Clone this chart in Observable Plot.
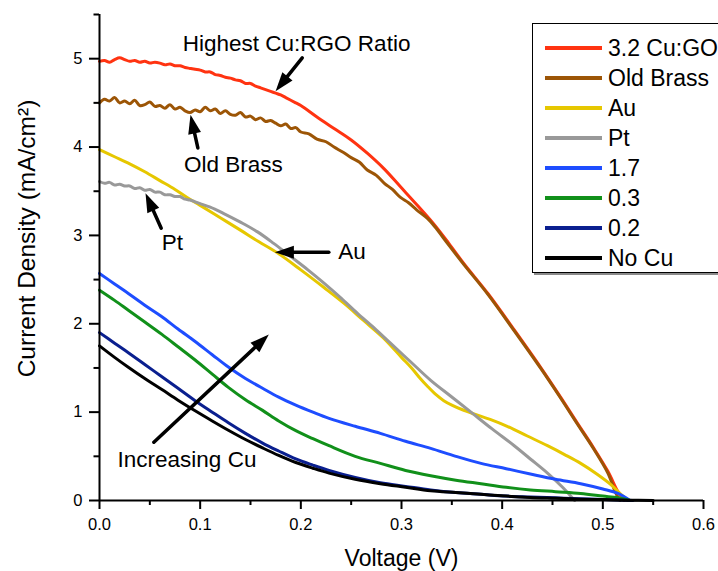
<!DOCTYPE html>
<html><head><meta charset="utf-8">
<script src="https://cdn.jsdelivr.net/npm/d3@7"></script>
<script src="https://cdn.jsdelivr.net/npm/@observablehq/plot@0.6"></script>
<style>
html,body{margin:0;padding:0;background:#fff;overflow:hidden;}
#wrap{position:relative;width:718px;height:571px;overflow:hidden;font-family:"Liberation Sans",Arial,sans-serif;}
#legend{position:absolute;left:532px;top:23px;width:240px;height:250px;border:1px solid #000;box-shadow:2px 2px 0 #8a8a8a;background:#fff;padding-top:9px;box-sizing:border-box;}
.row{height:30px;display:flex;align-items:center;font-size:23px;color:#000;white-space:nowrap;}
.sw{width:57px;height:3.5px;margin-left:12px;margin-right:6px;flex:none;}
</style></head><body><div id="wrap"></div>
<script>
// ---- data ----
const seriesNames = ["3.2 Cu:GO", "Old Brass", "Au", "Pt", "1.7", "0.3", "0.2", "No Cu"];
const seriesColors = ["#ff3311", "#9c5506", "#e6c700", "#999999", "#1e4dff", "#11901a", "#0a1f8f", "#000000"];

const cu32 = [[0,4.97],[0.005,4.98],[0.01,4.96],[0.015,4.99],[0.02,5.01],[0.025,4.99],[0.03,4.97],[0.035,4.98],[0.04,4.96],[0.045,4.97],[0.05,4.95],[0.055,4.96],[0.06,4.95],[0.065,4.93],[0.07,4.94],[0.075,4.92],[0.08,4.92],[0.085,4.90],[0.09,4.89],[0.095,4.88],[0.1,4.87],[0.105,4.85],[0.11,4.85],[0.115,4.82],[0.12,4.81],[0.125,4.79],[0.13,4.78],[0.135,4.76],[0.14,4.75],[0.145,4.72],[0.15,4.72],[0.155,4.69],[0.16,4.67],[0.165,4.65],[0.17,4.63],[0.175,4.61],[0.18,4.59],[0.185,4.56],[0.19,4.53],[0.195,4.50],[0.2,4.47],[0.216,4.34],[0.233,4.21],[0.25,4.08],[0.266,3.93],[0.283,3.75],[0.299,3.55],[0.315,3.35],[0.332,3.13],[0.347,2.91],[0.362,2.68],[0.386,2.34],[0.412,1.93],[0.438,1.51],[0.458,1.17],[0.475,0.87],[0.49,0.61],[0.505,0.33],[0.515,0.1],[0.521,0]];
const oldBrass = [[0,4.50],[0.005,4.54],[0.01,4.52],[0.015,4.56],[0.02,4.50],[0.025,4.52],[0.03,4.49],[0.035,4.53],[0.04,4.47],[0.045,4.48],[0.05,4.51],[0.055,4.46],[0.06,4.47],[0.065,4.44],[0.07,4.48],[0.075,4.43],[0.08,4.45],[0.085,4.41],[0.09,4.39],[0.095,4.42],[0.1,4.40],[0.105,4.45],[0.11,4.41],[0.115,4.43],[0.12,4.38],[0.125,4.41],[0.13,4.37],[0.135,4.36],[0.14,4.39],[0.145,4.34],[0.15,4.35],[0.155,4.31],[0.16,4.33],[0.165,4.29],[0.17,4.30],[0.175,4.27],[0.18,4.24],[0.185,4.26],[0.19,4.21],[0.195,4.22],[0.2,4.17],[0.208,4.15],[0.216,4.09],[0.225,4.06],[0.233,4.0],[0.242,3.94],[0.25,3.88],[0.258,3.83],[0.266,3.74],[0.275,3.68],[0.283,3.59],[0.291,3.52],[0.299,3.43],[0.307,3.37],[0.315,3.29],[0.326,3.19],[0.333,3.10],[0.347,2.89],[0.362,2.67],[0.386,2.33],[0.412,1.92],[0.438,1.50],[0.458,1.16],[0.475,0.86],[0.49,0.6],[0.505,0.31],[0.513,0.08],[0.517,0]];
const au = [[0,3.97],[0.015,3.89],[0.03,3.81],[0.045,3.72],[0.06,3.62],[0.075,3.52],[0.087,3.43],[0.1,3.34],[0.12,3.20],[0.14,3.06],[0.158,2.93],[0.177,2.80],[0.2,2.61],[0.223,2.41],[0.243,2.23],[0.262,2.04],[0.282,1.84],[0.3,1.62],[0.31,1.50],[0.318,1.39],[0.326,1.29],[0.334,1.20],[0.342,1.13],[0.35,1.08],[0.36,1.03],[0.372,0.98],[0.39,0.91],[0.405,0.84],[0.425,0.73],[0.445,0.62],[0.462,0.52],[0.478,0.42],[0.494,0.30],[0.508,0.18],[0.518,0.07],[0.525,0]];
const pt = [[0,3.61],[0.005,3.59],[0.01,3.60],[0.015,3.57],[0.02,3.58],[0.025,3.56],[0.03,3.56],[0.035,3.53],[0.04,3.54],[0.045,3.51],[0.05,3.52],[0.055,3.49],[0.06,3.49],[0.065,3.46],[0.07,3.46],[0.075,3.44],[0.08,3.44],[0.085,3.41],[0.09,3.40],[0.095,3.38],[0.1,3.36],[0.11,3.32],[0.123,3.25],[0.14,3.15],[0.157,3.04],[0.173,2.91],[0.19,2.76],[0.207,2.61],[0.223,2.46],[0.24,2.29],[0.256,2.12],[0.273,1.95],[0.289,1.78],[0.309,1.57],[0.329,1.36],[0.349,1.18],[0.369,1.0],[0.39,0.81],[0.412,0.62],[0.428,0.47],[0.445,0.31],[0.46,0.15],[0.472,0]];
const cu17 = [[0,2.57],[0.015,2.45],[0.029,2.34],[0.045,2.21],[0.062,2.08],[0.078,1.94],[0.095,1.80],[0.112,1.65],[0.128,1.51],[0.145,1.38],[0.162,1.27],[0.178,1.17],[0.195,1.08],[0.212,1.0],[0.228,0.93],[0.254,0.84],[0.279,0.76],[0.304,0.67],[0.329,0.59],[0.354,0.50],[0.379,0.42],[0.404,0.36],[0.428,0.30],[0.453,0.24],[0.478,0.19],[0.5,0.13],[0.515,0.08],[0.527,0]];
const cu03 = [[0,2.38],[0.015,2.265],[0.029,2.15],[0.045,2.02],[0.062,1.88],[0.078,1.74],[0.095,1.59],[0.112,1.43],[0.128,1.28],[0.145,1.14],[0.162,1.02],[0.178,0.90],[0.195,0.79],[0.212,0.70],[0.228,0.62],[0.254,0.50],[0.279,0.42],[0.304,0.34],[0.329,0.28],[0.354,0.23],[0.379,0.19],[0.404,0.15],[0.428,0.12],[0.453,0.10],[0.478,0.08],[0.5,0.05],[0.515,0.03],[0.527,0]];
const cu02 = [[0,1.90],[0.015,1.78],[0.029,1.67],[0.045,1.54],[0.062,1.40],[0.078,1.27],[0.095,1.13],[0.112,1.0],[0.128,0.88],[0.145,0.76],[0.162,0.65],[0.178,0.56],[0.195,0.47],[0.212,0.40],[0.228,0.34],[0.254,0.26],[0.279,0.20],[0.304,0.16],[0.329,0.12],[0.354,0.09],[0.379,0.07],[0.404,0.05],[0.428,0.04],[0.453,0.03],[0.478,0.02],[0.5,0.01],[0.53,0]];
const noCu = [[0,1.75],[0.015,1.62],[0.029,1.505],[0.045,1.38],[0.062,1.255],[0.078,1.135],[0.095,1.015],[0.112,0.90],[0.128,0.795],[0.145,0.69],[0.162,0.595],[0.178,0.51],[0.195,0.43],[0.212,0.365],[0.228,0.31],[0.254,0.24],[0.279,0.19],[0.304,0.15],[0.329,0.11],[0.354,0.09],[0.379,0.07],[0.404,0.05],[0.428,0.035],[0.453,0.025],[0.478,0.015],[0.5,0.01],[0.525,0.004],[0.55,0]];
const seriesPoints = [cu32, oldBrass, au, pt, cu17, cu03, cu02, noCu];

const xTicks = [0, 0.1, 0.2, 0.3, 0.4, 0.5, 0.6];
const xMinorTicks = [0.05, 0.15, 0.25, 0.35, 0.45, 0.55];
const yTicks = [0, 1, 2, 3, 4, 5];
const yMinorTicks = [0.5, 1.5, 2.5, 3.5, 4.5, 5.5];
const xTitle = "Voltage (V)";
const yTitle = "Current Density (mA/cm\u00B2)";

const annoText = ["Highest Cu:RGO Ratio", "Old Brass", "Pt", "Au", "Increasing Cu"];
const annoV = [0.1958, 0.1331, 0.0725, 0.2508, 0.0869];
const annoJ = [5.166, 3.797, 2.922, 2.809, 0.455];
const arrowTailV = [0.2014, 0.0977, 0.0613, 0.2278, 0.0540];
const arrowTailJ = [5.01, 3.99, 3.082, 2.81, 0.660];
const arrowHeadV = [0.1749, 0.0904, 0.0457, 0.1742, 0.1682];
const arrowHeadJ = [4.632, 4.365, 3.478, 2.81, 1.879];

// ---- layout ----
const W = 718, H = 571, mL = 99, mR = 15, mT = 14, mB = 71;
const xDomain = [0, 0.6], yDomain = [0, 5.5];
const kx = (W - mL - mR) / (xDomain[1] - xDomain[0]);
const ky = (H - mT - mB) / (yDomain[1] - yDomain[0]);

const rows = seriesNames.flatMap((s, i) => seriesPoints[i].map(([V, J]) => ({s, V, J})));
const annots = annoText.map((t, i) => ({t, V: annoV[i], J: annoJ[i]}));
const arrows = arrowTailV.map((tv, i) => {
  const tj = arrowTailJ[i], hv = arrowHeadV[i], hj = arrowHeadJ[i];
  const rot = Math.atan2((hv - tv) * kx, (hj - tj) * ky) * 180 / Math.PI;
  return {tv, tj, hv, hj, rot};
});
const headSymbol = {draw(ctx) { ctx.moveTo(0, 0); ctx.lineTo(-6.5, 19); ctx.lineTo(6.5, 19); ctx.closePath(); }};
const blank = () => "";

const chart = Plot.plot({
  width: W, height: H,
  marginLeft: mL, marginRight: mR, marginTop: mT, marginBottom: mB,
  x: {domain: xDomain, label: null},
  y: {domain: yDomain, label: null},
  color: {domain: seriesNames, range: seriesColors},
  style: {fontFamily: '"Liberation Sans", Arial, sans-serif', fontSize: "16.5px", color: "#000", background: "#fff", overflow: "visible"},
  marks: [
    Plot.line(rows, {x: "V", y: "J", z: "s", stroke: "s", strokeWidth: 3, strokeLinejoin: "round", curve: "catmull-rom"}),
    Plot.ruleX([0], {y1: yDomain[0], y2: yDomain[1], stroke: "#000", strokeWidth: 2}),
    Plot.ruleY([0], {x1: xDomain[0], x2: xDomain[1], stroke: "#000", strokeWidth: 2}),
    Plot.axisX(xTicks, {tickSize: 9, tickPadding: 9, strokeWidth: 2, tickFormat: d3.format(".1f"), fontSize: 16.5, label: null}),
    Plot.axisX(xMinorTicks, {tickSize: 5, strokeWidth: 2, tickFormat: blank, label: null}),
    Plot.axisY(yTicks, {tickSize: 10, tickPadding: 7, strokeWidth: 2, tickFormat: d3.format("d"), fontSize: 16.5, label: null}),
    Plot.axisY(yMinorTicks, {tickSize: 5.5, strokeWidth: 2, tickFormat: blank, label: null}),
    Plot.text([xTitle], {text: d => d, frameAnchor: "bottom", textAnchor: "middle", lineAnchor: "middle", dy: 58, fontSize: 23, fill: "#000"}),
    Plot.text([yTitle], {text: d => d, frameAnchor: "left", textAnchor: "middle", lineAnchor: "middle", rotate: -90, dx: -72, dy: -19, fontSize: 24.5, fill: "#000"}),
    Plot.text(annots, {x: "V", y: "J", text: "t", fontSize: 22.5, fill: "#000"}),
    Plot.arrow(arrows, {x1: "tv", y1: "tj", x2: "hv", y2: "hj", headLength: 0, insetEnd: 10, stroke: "#000", strokeWidth: 3.5}),
    Plot.dot(arrows, {x: "hv", y: "hj", symbol: headSymbol, rotate: "rot", r: 5, fill: "#000", stroke: "none"})
  ]
});

const wrap = document.getElementById("wrap");
wrap.appendChild(chart);

const legend = document.createElement("div");
legend.id = "legend";
seriesNames.forEach((name, i) => {
  const row = document.createElement("div");
  row.className = "row";
  const sw = document.createElement("span");
  sw.className = "sw";
  sw.style.background = seriesColors[i];
  const label = document.createElement("span");
  label.textContent = name;
  row.appendChild(sw);
  row.appendChild(label);
  legend.appendChild(row);
});
wrap.appendChild(legend);
</script></body></html>
